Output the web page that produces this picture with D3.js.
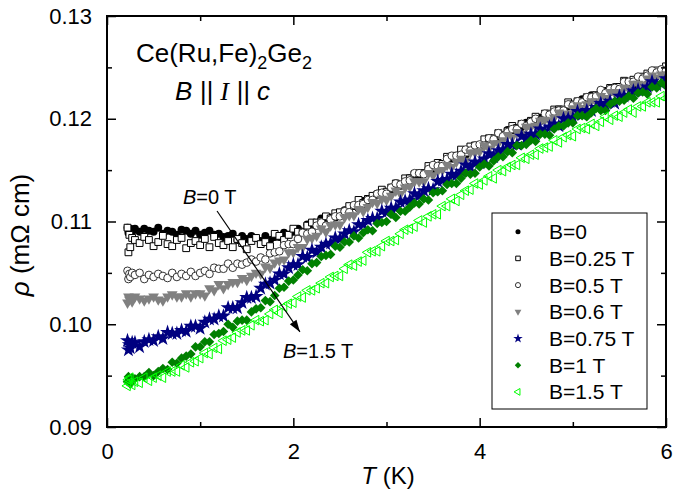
<!DOCTYPE html>
<html>
<head>
<meta charset="utf-8">
<script src="https://cdn.jsdelivr.net/npm/d3@7"></script>
<style>
body { margin: 0; background: #fff; }
svg text { font-family: "Liberation Sans", Arial, sans-serif; fill: #000; }
</style>
</head>
<body>
<div id="chart"></div>
<script>
// temperature grid (K), shared by all field sweeps
var temps = [0.22,0.23,0.24,0.25,0.27,
 0.3,0.35,0.4,0.45,0.5,0.55,0.6,0.65,0.7,0.75,
 0.8,0.85,0.9,0.95,1,1.05,1.1,1.15,1.2,1.25,
 1.3,1.35,1.4,1.45,1.5,1.55,1.6,1.65,1.7,1.75,
 1.8,1.85,1.9,1.95,2,2.05,2.1,2.15,2.2,2.25,
 2.3,2.35,2.4,2.45,2.5,2.55,2.6,2.65,2.7,2.75,
 2.8,2.85,2.9,2.95,3,3.05,3.1,3.15,3.2,3.25,
 3.3,3.35,3.4,3.45,3.5,3.55,3.6,3.65,3.7,3.75,
 3.8,3.85,3.9,3.95,4,4.05,4.1,4.15,4.2,4.25,
 4.3,4.35,4.4,4.45,4.5,4.55,4.6,4.65,4.7,4.75,
 4.8,4.85,4.9,4.95,5,5.05,5.1,5.15,5.2,5.25,
 5.3,5.35,5.4,5.45,5.5,5.55,5.6,5.65,5.7,5.75,
 5.8,5.85,5.9,5.95,6];

// resistivity (mOhm cm)
var rhoB0 = [0.1094,0.1089,0.1091,0.1093,0.1090,
 0.1093,0.1090,0.1093,0.1091,0.1090,0.1094,0.1088,0.1091,0.1090,0.1087,
 0.1092,0.1091,0.1088,0.1091,0.1087,0.1089,0.1091,0.1087,0.1088,0.1085,
 0.1086,0.1088,0.1082,0.1086,0.1083,0.1086,0.1084,0.1081,0.1086,0.1082,
 0.1085,0.1085,0.1089,0.1087,0.1090,0.1093,0.1090,0.1097,0.1096,0.1097,
 0.1103,0.1100,0.1104,0.1104,0.1107,0.1111,0.1109,0.1115,0.1113,0.1120,
 0.1120,0.1121,0.1127,0.1128,0.1127,0.1131,0.1137,0.1135,0.1136,0.1142,
 0.1145,0.1142,0.1147,0.1151,0.1151,0.1156,0.1154,0.1162,0.1161,0.1162,
 0.1166,0.1165,0.1172,0.1172,0.1171,0.1177,0.1180,0.1179,0.1182,0.1182,
 0.1189,0.1189,0.1188,0.1192,0.1196,0.1195,0.1195,0.1201,0.1204,0.1204,
 0.1204,0.1209,0.1207,0.1212,0.1213,0.1212,0.1219,0.1217,0.1223,0.1220,
 0.1224,0.1227,0.1226,0.1231,0.1229,0.1233,0.1235,0.1233,0.1240,0.1239,
 0.1242,0.1243,0.1243,0.1248,0.1247];

var rhoB025 = [0.1094,0.1070,0.1087,0.1075,0.1084,
 0.1082,0.1079,0.1085,0.1082,0.1076,0.1080,0.1086,0.1078,0.1076,0.1082,
 0.1084,0.1074,0.1079,0.1081,0.1077,0.1083,0.1075,0.1085,0.1079,0.1077,
 0.1081,0.1075,0.1083,0.1079,0.1073,0.1081,0.1084,0.1078,0.1080,0.1076,
 0.1088,0.1086,0.1082,0.1087,0.1093,0.1090,0.1090,0.1096,0.1099,0.1099,
 0.1100,0.1105,0.1103,0.1108,0.1109,0.1108,0.1115,0.1115,0.1121,0.1118,
 0.1122,0.1125,0.1126,0.1131,0.1129,0.1133,0.1137,0.1135,0.1142,0.1142,
 0.1146,0.1147,0.1147,0.1154,0.1153,0.1157,0.1156,0.1163,0.1163,0.1164,
 0.1170,0.1167,0.1173,0.1174,0.1173,0.1180,0.1181,0.1181,0.1186,0.1184,
 0.1188,0.1193,0.1191,0.1195,0.1194,0.1198,0.1202,0.1199,0.1205,0.1205,
 0.1209,0.1209,0.1209,0.1216,0.1214,0.1217,0.1217,0.1221,0.1219,0.1223,
 0.1226,0.1224,0.1230,0.1230,0.1231,0.1237,0.1233,0.1238,0.1238,0.1241,
 0.1244,0.1242,0.1247,0.1244,0.1251];

var rhoB05 = [0.1052,0.1044,0.1049,0.1046,0.1050,
 0.1048,0.1050,0.1044,0.1048,0.1046,0.1049,0.1047,0.1045,0.1050,0.1046,
 0.1049,0.1047,0.1051,0.1047,0.1050,0.1052,0.1049,0.1055,0.1054,0.1054,
 0.1059,0.1055,0.1059,0.1058,0.1060,0.1063,0.1061,0.1065,0.1063,0.1069,
 0.1070,0.1071,0.1077,0.1078,0.1078,0.1083,0.1089,0.1088,0.1090,0.1096,
 0.1099,0.1096,0.1102,0.1105,0.1105,0.1110,0.1109,0.1116,0.1116,0.1117,
 0.1121,0.1121,0.1127,0.1128,0.1127,0.1133,0.1137,0.1136,0.1139,0.1140,
 0.1147,0.1147,0.1146,0.1151,0.1155,0.1154,0.1154,0.1161,0.1164,0.1164,
 0.1165,0.1170,0.1169,0.1174,0.1175,0.1174,0.1181,0.1180,0.1186,0.1183,
 0.1187,0.1190,0.1190,0.1195,0.1193,0.1197,0.1200,0.1198,0.1205,0.1204,
 0.1207,0.1208,0.1208,0.1214,0.1213,0.1217,0.1216,0.1221,0.1221,0.1222,
 0.1228,0.1225,0.1229,0.1230,0.1229,0.1236,0.1236,0.1236,0.1241,0.1239,
 0.1242,0.1247,0.1245,0.1248,0.1247];

var rhoB06 = [0.1021,0.1027,0.1024,0.1026,0.1022,
 0.1027,0.1025,0.1023,0.1025,0.1027,0.1024,0.1023,0.1027,0.1029,0.1027,
 0.1027,0.1030,0.1027,0.1030,0.1030,0.1028,0.1035,0.1033,0.1039,0.1035,
 0.1039,0.1041,0.1041,0.1045,0.1043,0.1047,0.1050,0.1049,0.1056,0.1055,
 0.1060,0.1062,0.1063,0.1070,0.1070,0.1075,0.1075,0.1083,0.1084,0.1086,
 0.1093,0.1090,0.1096,0.1097,0.1097,0.1104,0.1106,0.1106,0.1112,0.1110,
 0.1114,0.1119,0.1118,0.1122,0.1121,0.1125,0.1130,0.1127,0.1133,0.1134,
 0.1139,0.1139,0.1139,0.1147,0.1145,0.1149,0.1150,0.1155,0.1153,0.1158,
 0.1161,0.1159,0.1167,0.1167,0.1168,0.1174,0.1171,0.1176,0.1176,0.1179,
 0.1184,0.1182,0.1187,0.1185,0.1192,0.1192,0.1193,0.1198,0.1199,0.1198,
 0.1201,0.1206,0.1204,0.1205,0.1210,0.1213,0.1210,0.1214,0.1217,0.1217,
 0.1222,0.1220,0.1226,0.1225,0.1226,0.1230,0.1229,0.1234,0.1234,0.1233,
 0.1239,0.1242,0.1240,0.1243,0.1243];

var rhoB075 = [0.0984,0.0975,0.0980,0.0977,0.0982,
 0.0982,0.0978,0.0983,0.0985,0.0984,0.0988,0.0986,0.0992,0.0991,0.0991,
 0.0994,0.0993,0.0998,0.0998,0.0996,0.1002,0.1005,0.1005,0.1008,0.1008,
 0.1016,0.1016,0.1016,0.1021,0.1026,0.1026,0.1027,0.1035,0.1039,0.1040,
 0.1043,0.1049,0.1049,0.1055,0.1058,0.1058,0.1066,0.1065,0.1072,0.1070,
 0.1075,0.1078,0.1079,0.1084,0.1083,0.1088,0.1091,0.1090,0.1097,0.1097,
 0.1101,0.1103,0.1103,0.1110,0.1109,0.1113,0.1113,0.1119,0.1120,0.1121,
 0.1127,0.1125,0.1130,0.1132,0.1131,0.1139,0.1140,0.1141,0.1146,0.1145,
 0.1149,0.1155,0.1153,0.1158,0.1157,0.1161,0.1166,0.1163,0.1169,0.1170,
 0.1175,0.1175,0.1175,0.1183,0.1181,0.1185,0.1185,0.1190,0.1188,0.1192,
 0.1195,0.1193,0.1200,0.1200,0.1201,0.1207,0.1204,0.1208,0.1208,0.1211,
 0.1215,0.1213,0.1217,0.1215,0.1222,0.1222,0.1223,0.1227,0.1228,0.1227,
 0.1231,0.1236,0.1233,0.1234,0.1239];

var rhoB1 = [0.0944,0.0949,0.0946,0.0942,0.0948,
 0.0947,0.0949,0.0949,0.0953,0.0950,0.0954,0.0957,0.0956,0.0963,0.0962,
 0.0967,0.0969,0.0971,0.0978,0.0978,0.0983,0.0983,0.0990,0.0991,0.0993,
 0.1000,0.0997,0.1003,0.1004,0.1004,0.1012,0.1015,0.1016,0.1023,0.1022,
 0.1028,0.1035,0.1036,0.1042,0.1043,0.1048,0.1053,0.1052,0.1059,0.1060,
 0.1066,0.1067,0.1068,0.1076,0.1075,0.1080,0.1080,0.1086,0.1084,0.1089,
 0.1092,0.1091,0.1098,0.1099,0.1100,0.1107,0.1104,0.1110,0.1110,0.1114,
 0.1118,0.1117,0.1122,0.1121,0.1128,0.1129,0.1130,0.1136,0.1137,0.1137,
 0.1142,0.1147,0.1146,0.1147,0.1153,0.1156,0.1154,0.1159,0.1163,0.1163,
 0.1168,0.1167,0.1174,0.1174,0.1175,0.1179,0.1178,0.1185,0.1185,0.1184,
 0.1190,0.1193,0.1193,0.1196,0.1196,0.1203,0.1203,0.1202,0.1206,0.1210,
 0.1208,0.1208,0.1214,0.1217,0.1217,0.1218,0.1222,0.1220,0.1225,0.1226,
 0.1224,0.1231,0.1230,0.1235,0.1232];

var rhoB15 = [0.0940,0.0946,0.0943,0.0948,0.0941,
 0.0944,0.0943,0.0948,0.0945,0.0948,0.0950,0.0948,0.0954,0.0954,0.0954,
 0.0960,0.0958,0.0963,0.0964,0.0967,0.0972,0.0971,0.0977,0.0976,0.0984,
 0.0985,0.0987,0.0992,0.0994,0.0994,0.0999,0.1004,0.1003,0.1004,0.1010,
 0.1014,0.1011,0.1017,0.1020,0.1021,0.1027,0.1026,0.1033,0.1033,0.1035,
 0.1040,0.1040,0.1046,0.1047,0.1047,0.1054,0.1058,0.1057,0.1061,0.1062,
 0.1070,0.1071,0.1071,0.1076,0.1081,0.1081,0.1082,0.1088,0.1092,0.1093,
 0.1095,0.1101,0.1099,0.1105,0.1107,0.1107,0.1115,0.1115,0.1122,0.1120,
 0.1126,0.1130,0.1131,0.1137,0.1136,0.1140,0.1144,0.1142,0.1150,0.1149,
 0.1153,0.1155,0.1155,0.1162,0.1161,0.1165,0.1165,0.1171,0.1172,0.1173,
 0.1179,0.1177,0.1182,0.1184,0.1183,0.1190,0.1191,0.1190,0.1195,0.1193,
 0.1197,0.1202,0.1199,0.1203,0.1202,0.1206,0.1209,0.1206,0.1212,0.1212,
 0.1216,0.1216,0.1216,0.1222,0.1220];

var seriesLabels = ["B=0", "B=0.25 T", "B=0.5 T", "B=0.6 T", "B=0.75 T", "B=1 T", "B=1.5 T"];
var seriesValues = [rhoB0, rhoB025, rhoB05, rhoB06, rhoB075, rhoB1, rhoB15];

var xMajor = [0, 2, 4, 6], xMinor = [1, 3, 5];
var yMajor = [0.09, 0.10, 0.11, 0.12, 0.13], yMinor = [0.095, 0.105, 0.115, 0.125];

// marker look of each sweep
var styles = [
  {sym: d3.symbolCircle,   size: 50, fill: "#000",    stroke: "none",    rot: 0},
  {sym: d3.symbolSquare,   size: 46, fill: "#fff",    stroke: "#000",    rot: 0},
  {sym: d3.symbolCircle,   size: 46, fill: "#fff",    stroke: "#333",    rot: 0},
  {sym: d3.symbolTriangle, size: 50, fill: "#808080", stroke: "none",    rot: 180},
  {sym: d3.symbolStar,     size: 70, fill: "#000080", stroke: "none",    rot: 0},
  {sym: d3.symbolSquare,   size: 46, fill: "#008000", stroke: "none",    rot: 45},
  {sym: d3.symbolTriangle, size: 40, fill: "none",    stroke: "#00ff00", rot: -90}
];
var legendScale = [0.4, 0.45, 0.45, 0.4, 0.4, 0.45, 0.5];

var width = 673, height = 492;
var plotL = 107, plotR = 666, plotT = 16, plotB = 427;

var svg = d3.select("#chart").append("svg")
  .attr("width", width)
  .attr("height", height);

var x = d3.scaleLinear().domain([0, 6]).range([plotL, plotR]);
var y = d3.scaleLinear().domain([0.09, 0.13]).range([plotB, plotT]);

svg.append("defs").append("clipPath").attr("id", "plotclip")
  .append("rect").attr("x", plotL).attr("y", plotT)
  .attr("width", plotR - plotL).attr("height", plotB - plotT);

// data
var plot = svg.append("g").attr("clip-path", "url(#plotclip)");
seriesValues.forEach(function(vals, i) {
  var st = styles[i];
  plot.append("g")
    .selectAll("path")
    .data(d3.zip(temps, vals))
    .join("path")
    .attr("transform", function(d) { return "translate(" + x(d[0]) + "," + y(d[1]) + ") rotate(" + st.rot + ")"; })
    .attr("d", d3.symbol(st.sym, st.size))
    .style("fill", st.fill)
    .style("stroke", st.stroke)
    .style("stroke-width", 1);
});

// axes, ticks pointing inward on all four sides
function styleAxis(g) {
  g.select(".domain").remove();
  g.selectAll(".tick line").attr("stroke", "#000").attr("stroke-width", 1.5);
  g.selectAll("text").attr("font-size", 22).attr("font-family", "Liberation Sans, Arial, sans-serif").attr("fill", "#000");
}
var noLabel = function() { return ""; };

svg.append("g").attr("transform", "translate(0," + plotB + ")")
  .call(d3.axisBottom(x).tickValues(xMajor).tickSizeInner(-9).tickSizeOuter(0).tickPadding(16).tickFormat(d3.format("d")))
  .call(styleAxis);
svg.append("g").attr("transform", "translate(0," + plotB + ")")
  .call(d3.axisBottom(x).tickValues(xMinor).tickSizeInner(-5).tickSizeOuter(0).tickFormat(noLabel))
  .call(styleAxis);
svg.append("g").attr("transform", "translate(0," + plotT + ")")
  .call(d3.axisTop(x).tickValues(xMajor).tickSizeInner(-9).tickSizeOuter(0).tickFormat(noLabel))
  .call(styleAxis);
svg.append("g").attr("transform", "translate(0," + plotT + ")")
  .call(d3.axisTop(x).tickValues(xMinor).tickSizeInner(-5).tickSizeOuter(0).tickFormat(noLabel))
  .call(styleAxis);

svg.append("g").attr("transform", "translate(" + plotL + ",0)")
  .call(d3.axisLeft(y).tickValues(yMajor).tickSizeInner(-9).tickSizeOuter(0).tickPadding(15).tickFormat(d3.format(".2f")))
  .call(styleAxis);
svg.append("g").attr("transform", "translate(" + plotL + ",0)")
  .call(d3.axisLeft(y).tickValues(yMinor).tickSizeInner(-5).tickSizeOuter(0).tickFormat(noLabel))
  .call(styleAxis);
svg.append("g").attr("transform", "translate(" + plotR + ",0)")
  .call(d3.axisRight(y).tickValues(yMajor).tickSizeInner(-9).tickSizeOuter(0).tickFormat(noLabel))
  .call(styleAxis);
svg.append("g").attr("transform", "translate(" + plotR + ",0)")
  .call(d3.axisRight(y).tickValues(yMinor).tickSizeInner(-5).tickSizeOuter(0).tickFormat(noLabel))
  .call(styleAxis);

svg.append("rect")
  .attr("x", plotL).attr("y", plotT)
  .attr("width", plotR - plotL).attr("height", plotB - plotT)
  .style("fill", "none").style("stroke", "#000").style("stroke-width", 2);

// axis titles
var xt = svg.append("text")
  .attr("x", 388).attr("y", 484)
  .attr("text-anchor", "middle").attr("font-size", 24);
xt.append("tspan").attr("font-style", "italic").text("T");
xt.append("tspan").text(" (K)");

var yt = svg.append("text")
  .attr("transform", "translate(29,235) rotate(-90)")
  .attr("text-anchor", "middle").attr("font-size", 26);
yt.append("tspan").attr("font-style", "italic").text("\u03c1");
yt.append("tspan").text(" (m\u03a9 cm)");

// sample / geometry annotation
var t1 = svg.append("text").attr("x", x(0.311)).attr("y", y(0.12552)).attr("font-size", 26);
t1.append("tspan").text("Ce(Ru,Fe)");
t1.append("tspan").attr("font-size", 18).attr("dy", 7).text("2");
t1.append("tspan").attr("dy", -7).text("Ge");
t1.append("tspan").attr("font-size", 18).attr("dy", 7).text("2");

var t2 = svg.append("text").attr("x", x(0.73)).attr("y", y(0.12182))
  .attr("font-size", 26).attr("font-style", "italic");
t2.append("tspan").text("B || ");
t2.append("tspan").attr("font-family", "Liberation Serif, Times New Roman, serif").text("I");
t2.append("tspan").text(" || c");

// arrow from B=0 to B=1.5 T
var a0 = [x(1.181), y(0.11102)], a1 = [x(2.071), y(0.09925)];
svg.append("line")
  .attr("x1", a0[0]).attr("y1", a0[1]).attr("x2", a1[0]).attr("y2", a1[1])
  .style("stroke", "#000").style("stroke-width", 1.2);
var ang = Math.atan2(a1[1] - a0[1], a1[0] - a0[0]) * 180 / Math.PI;
svg.append("path")
  .attr("d", "M0,0L-12,-4L-12,4Z")
  .attr("transform", "translate(" + a1[0] + "," + a1[1] + ") rotate(" + ang + ")")
  .style("fill", "#000");

var la = svg.append("text").attr("x", x(0.816)).attr("y", y(0.1117)).attr("font-size", 20);
la.append("tspan").attr("font-style", "italic").text("B");
la.append("tspan").text("=0 T");
var lb = svg.append("text").attr("x", x(1.889)).attr("y", y(0.09672)).attr("font-size", 20);
lb.append("tspan").attr("font-style", "italic").text("B");
lb.append("tspan").text("=1.5 T");

// legend
var lg = svg.append("g");
lg.append("rect")
  .attr("x", 492).attr("y", 213).attr("width", 155).attr("height", 196)
  .style("fill", "#fff").style("stroke", "#000").style("stroke-width", 1);
seriesLabels.forEach(function(lab, i) {
  var st = styles[i];
  var cy = 231.7 + i * 26.7;
  lg.append("path")
    .attr("transform", "translate(518," + cy + ") rotate(" + st.rot + ")")
    .attr("d", d3.symbol(st.sym, st.size * legendScale[i]))
    .style("fill", st.fill).style("stroke", st.stroke).style("stroke-width", 1);
  lg.append("text").attr("x", 549).attr("y", cy + 7.5).attr("font-size", 21).text(lab);
});
</script>
</body>
</html>
